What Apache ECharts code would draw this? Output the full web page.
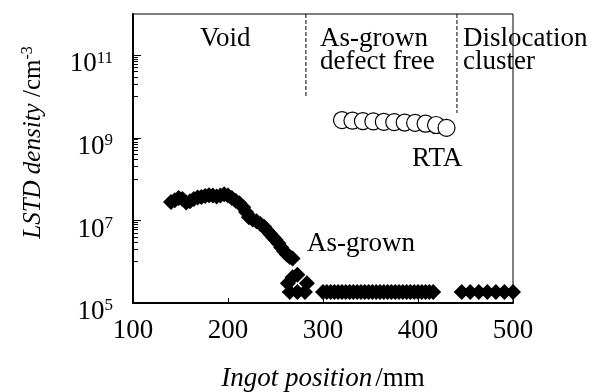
<!DOCTYPE html>
<html>
<head>
<meta charset="utf-8">
<script src="https://cdn.jsdelivr.net/npm/echarts@6/dist/echarts.min.js"></script>
<style>
  html, body { margin: 0; padding: 0; background: #fff; }
  #chart { width: 600px; height: 392px; }
</style>
</head>
<body>
<div id="chart"></div>
<script>
// as-grown LSTD density
const asGrownPos = [
  140, 144, 148, 152, 156, 160, 164, 168, 172, 176, 180, 184, 188, 192, 196, 200,
  204, 208, 212, 216, 219, 222, 226, 230, 234, 238, 241, 244, 247, 250, 253, 256,
  259, 262, 265, 268, 268, 273, 263, 283, 265, 273, 281,
  300, 304, 308, 312, 316, 320, 324, 328, 332, 336, 340, 344, 348, 352, 356, 360,
  364, 368, 372, 376, 380, 384, 388, 392, 396, 400, 404, 408, 412, 416,
  446, 455, 464, 473, 482, 491, 500
]
const asGrownDensity = [
  2.8e7, 3.1e7, 3.5e7, 3.3e7, 2.7e7, 2.9e7, 3.3e7, 3.6e7, 3.7e7, 3.9e7, 4.1e7, 4.0e7, 3.8e7, 4.0e7, 4.3e7, 4.0e7,
  3.5e7, 3.0e7, 2.6e7, 2.1e7, 1.6e7, 1.2e7, 1.05e7, 9.5e6, 8.2e6, 7.0e6, 5.8e6, 4.8e6, 4.0e6, 3.4e6, 2.8e6, 2.2e6,
  1.8e6, 1.5e6, 1.3e6, 1.2e6, 4.2e5, 4.8e5, 3.0e5, 3.0e5, 1.85e5, 1.85e5, 1.85e5,
  1.85e5, 1.85e5, 1.85e5, 1.85e5, 1.85e5, 1.85e5, 1.85e5, 1.85e5, 1.85e5, 1.85e5, 1.85e5, 1.85e5, 1.85e5, 1.85e5, 1.85e5, 1.85e5,
  1.85e5, 1.85e5, 1.85e5, 1.85e5, 1.85e5, 1.85e5, 1.85e5, 1.85e5, 1.85e5, 1.85e5, 1.85e5, 1.85e5, 1.85e5, 1.85e5,
  1.85e5, 1.85e5, 1.85e5, 1.85e5, 1.85e5, 1.85e5, 1.85e5
]

// after RTA
const rtaPos = [320, 331, 342, 353, 364, 375, 386, 397, 408, 419, 430]
const rtaDensity = [2.7e9, 2.6e9, 2.55e9, 2.5e9, 2.45e9, 2.4e9, 2.35e9, 2.3e9, 2.2e9, 2.05e9, 1.75e9]

// region boundaries (dashed)
const boundary1 = [[282, 1e12], [282, 1e10]]
const boundary2 = [[441, 1e12], [441, 4e9]]

// minor ticks on the density axis
const minorTicks = [
  1e6, 2e6, 3e6, 4e6, 5e6, 6e6, 7e6, 8e6, 9e6,
  1e8, 2e8, 3e8, 4e8, 5e8, 6e8, 7e8, 8e8, 9e8,
  1e10, 2e10, 3e10, 4e10, 5e10, 6e10, 7e10, 8e10, 9e10
]

const serif = "'Liberation Serif', 'Times New Roman', serif"
const fs = 27

const chart = echarts.init(document.getElementById('chart'))

const option = {
  animation: false,
  textStyle: { fontFamily: serif, color: '#000' },
  grid: {
    left: 133, right: 87, top: 14, bottom: 89,
    outerBoundsMode: 'none',
    show: true, borderColor: '#000', borderWidth: 1,
  },
  xAxis: {
    type: 'value',
    min: 100,
    max: 500,
    interval: 100,
    axisLine: { lineStyle: { color: '#000', width: 2 } },
    axisTick: { inside: true, length: 5, lineStyle: { color: '#000', width: 1 } },
    splitLine: { show: false },
    axisLabel: { fontFamily: serif, fontSize: fs, color: '#000', margin: 14 },
    name: '{i|Ingot position} {n|/mm}',
    nameLocation: 'middle',
    nameGap: 62,
    nameTextStyle: {
      rich: {
        i: { fontFamily: serif, fontSize: fs, fontStyle: 'italic', color: '#000' },
        n: { fontFamily: serif, fontSize: fs, color: '#000' },
      },
    },
  },
  yAxis: [
    {
      type: 'log',
      min: 1e5,
      max: 1e12,
      interval: 2,
      axisLine: { lineStyle: { color: '#000', width: 2 } },
      axisTick: { inside: true, length: 8, lineStyle: { color: '#000', width: 1 } },
      splitLine: { show: false },
      axisLabel: {
        showMaxLabel: false,
        margin: 20,
        padding: [18, 0, 0, 0],
        formatter: function (v) {
          const e = Math.round(Math.log10(v))
          return '{b|10}{s|' + e + '}'
        },
        rich: {
          b: { fontFamily: serif, fontSize: fs, color: '#000' },
          s: { fontFamily: serif, fontSize: 17, color: '#000', padding: [0, 0, 12, 0] },
        },
      },
      name: '{i|LSTD density}{n| /cm}{s|-3}',
      nameLocation: 'middle',
      nameGap: 86,
      nameRotate: 90,
      nameTextStyle: {
        padding: [0, 0, 0, 32],
        rich: {
          i: { fontFamily: serif, fontSize: 25, fontStyle: 'italic', color: '#000' },
          n: { fontFamily: serif, fontSize: 25, color: '#000' },
          s: { fontFamily: serif, fontSize: 16, color: '#000', padding: [0, 0, 11, 0] },
        },
      },
    },
    {
      type: 'log',
      min: 1e5,
      max: 1e12,
      position: 'left',
      axisLine: { show: false },
      axisLabel: { show: false },
      splitLine: { show: false },
      axisTick: {
        inside: true,
        length: 5,
        customValues: minorTicks,
        lineStyle: { color: '#000', width: 1 },
      },
    },
  ],
  graphic: [
    { type: 'text', left: 200, top: 25, style: { text: 'Void', font: fs + 'px ' + serif, fill: '#000' } },
    { type: 'text', left: 320, top: 25, style: { text: 'As-grown\ndefect free', font: fs + 'px ' + serif, fill: '#000', lineHeight: 23 } },
    { type: 'text', left: 463, top: 25, style: { text: 'Dislocation\ncluster', font: fs + 'px ' + serif, fill: '#000', lineHeight: 23 } },
    { type: 'text', left: 412, top: 145, style: { text: 'RTA', font: fs + 'px ' + serif, fill: '#000' } },
    { type: 'text', left: 307, top: 230, style: { text: 'As-grown', font: fs + 'px ' + serif, fill: '#000' } },
  ],
  series: [
    {
      type: 'line',
      data: boundary1,
      symbol: 'none',
      silent: true,
      lineStyle: { color: '#000', width: 1, type: [4, 2] },
    },
    {
      type: 'line',
      data: boundary2,
      symbol: 'none',
      silent: true,
      lineStyle: { color: '#000', width: 1, type: [4, 2] },
    },
    {
      name: 'As-grown',
      type: 'scatter',
      symbol: 'diamond',
      symbolSize: 16,
      itemStyle: { color: '#000', opacity: 1 },
      data: asGrownPos.map(function (x, i) { return [x, asGrownDensity[i]] }),
    },
    {
      name: 'RTA',
      type: 'scatter',
      symbol: 'circle',
      symbolSize: 17,
      itemStyle: { color: '#fff', borderColor: '#000', borderWidth: 1.2, opacity: 1 },
      data: rtaPos.map(function (x, i) { return [x, rtaDensity[i]] }),
    },
  ],
}

chart.setOption(option)
</script>
</body>
</html>
